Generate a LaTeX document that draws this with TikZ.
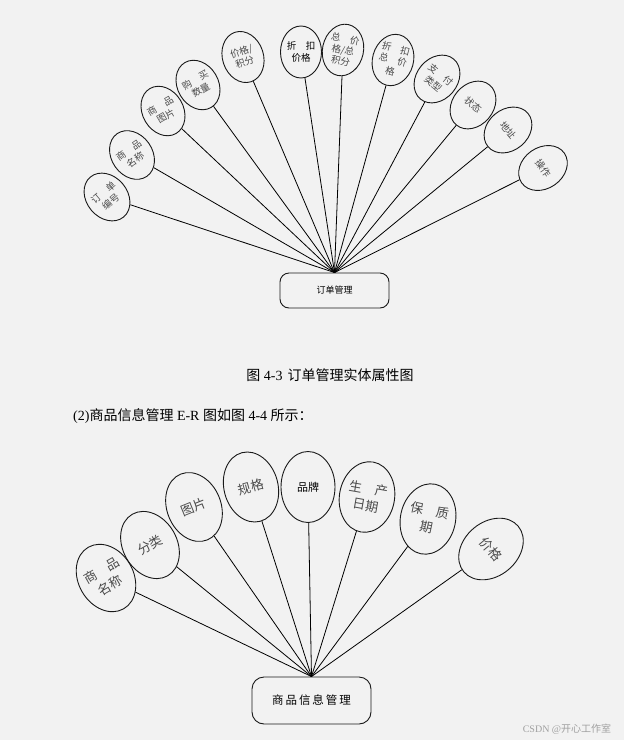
\documentclass[tikz,border=0pt]{standalone}
\usepackage{fontspec}
\setmainfont{Liberation Serif}
\newfontfamily\cjk{Noto Sans CJK SC}
\usetikzlibrary{shapes.geometric,positioning}
\definecolor{bgc}{HTML}{F2F2F2}
\definecolor{txtg}{HTML}{4A4A4A}
\definecolor{markg}{HTML}{A0A0A0}

\begin{document}
\begin{tikzpicture}[x=1pt, y=1pt,
    attr/.style={ellipse, draw=black!90, line width=0.9pt, inner sep=-2pt, minimum width=41, minimum height=52, align=center, text=txtg, font=\cjk\fontsize{9.5}{11.5}\selectfont},
    bigattr/.style={attr, inner sep=0pt, minimum width=54, minimum height=71, font=\cjk\fontsize{13}{17}\selectfont},
    ent/.style={draw=black!90, line width=0.9pt, rounded corners=9pt, font=\cjk},
    link/.style={line width=0.8pt}]
  \fill[bgc] (0,0) rectangle (624,-740);
  \useasboundingbox (0,0) rectangle (624,-740);

  % order management
  \node[ent, minimum width=109, minimum height=35, font=\cjk\fontsize{9}{11}\selectfont] (order) at (334.5,-290.5) {订单管理};
  \coordinate (hubA) at (order.north);
  \node[attr, rotate=40]  (o1)  at (107,-197) {订\quad 单\\编号};
  \node[attr, rotate=35]  (o2)  at (132,-155) {商\quad 品\\名称};
  \node[attr, rotate=30]  (o3)  at (163,-111) {商\quad 品\\图片};
  \node[attr, rotate=30]  (o4)  at (198,-85)  {购\quad 买\\数量};
  \node[attr, rotate=18]  (o5)  at (243,-57)  {价格/\\积分};
  \node[attr, text=black] (o6)  at (301,-52)  {折\quad 扣\\价格};
  \node[attr, rotate=-12] (o7)  at (343,-50)  {总\quad 价\\格/总\\积分};
  \node[attr, rotate=-15] (o8)  at (393,-60)  {折\quad 扣\\总\quad 价\\格\qquad};
  \node[attr, rotate=-40] (o9)  at (437,-79)  {支\quad 付\\类型};
  \node[attr, rotate=-40] (o10) at (473,-105) {状态};
  \node[attr, rotate=-50] (o11) at (508,-130) {地址};
  \node[attr, rotate=-55] (o12) at (543,-168) {操作};
  \foreach \i in {1,...,12}
    \draw[link] (o\i) -- (hubA);

  \node[font=\fontsize{14}{16}\selectfont] (capA) at (330,-375) {{\cjk 图} 4-3\hspace{5pt}{\cjk 订单管理实体属性图}};
  \node[anchor=west, inner sep=0pt, font=\fontsize{14}{16}\selectfont] (intro) at (73,-416) {(2){\cjk 商品信息管理} E-R {\cjk 图如图} 4-4 {\cjk 所示：}};

  % goods information
  \node[ent, rounded corners=12pt, minimum width=119, minimum height=47, font=\cjk\fontsize{11.5}{14}\selectfont] (goods) at (311.5,-700.5) {商\,品\,信\,息\,管\,理};
  \coordinate (hubB) at (goods.north);
  \node[bigattr, rotate=30]  (p1) at (106,-578) {商\quad 品\\名称};
  \node[bigattr, rotate=30]  (p2) at (150,-545) {分类};
  \node[bigattr, rotate=22]  (p3) at (194,-507) {图片};
  \node[bigattr, rotate=15]  (p4) at (251,-487) {规格};
  \node[bigattr, text=black, font=\cjk\fontsize{11}{14}\selectfont] (p5) at (308,-487) {品牌};
  \node[bigattr, rotate=-10] (p6) at (367,-497) {生\quad 产\\日期\quad};
  \node[bigattr, rotate=-12] (p7) at (428,-519) {保\quad 质\\期\qquad};
  \node[bigattr, rotate=-50] (p8) at (491,-549) {价格};
  \foreach \i in {1,...,8}
    \draw[link] (p\i) -- (hubB);

  \node[text=markg, font=\fontsize{10}{12}\selectfont] (mark) at (567,-729) {CSDN @{\cjk 开心工作室}};
\end{tikzpicture}
\end{document}
